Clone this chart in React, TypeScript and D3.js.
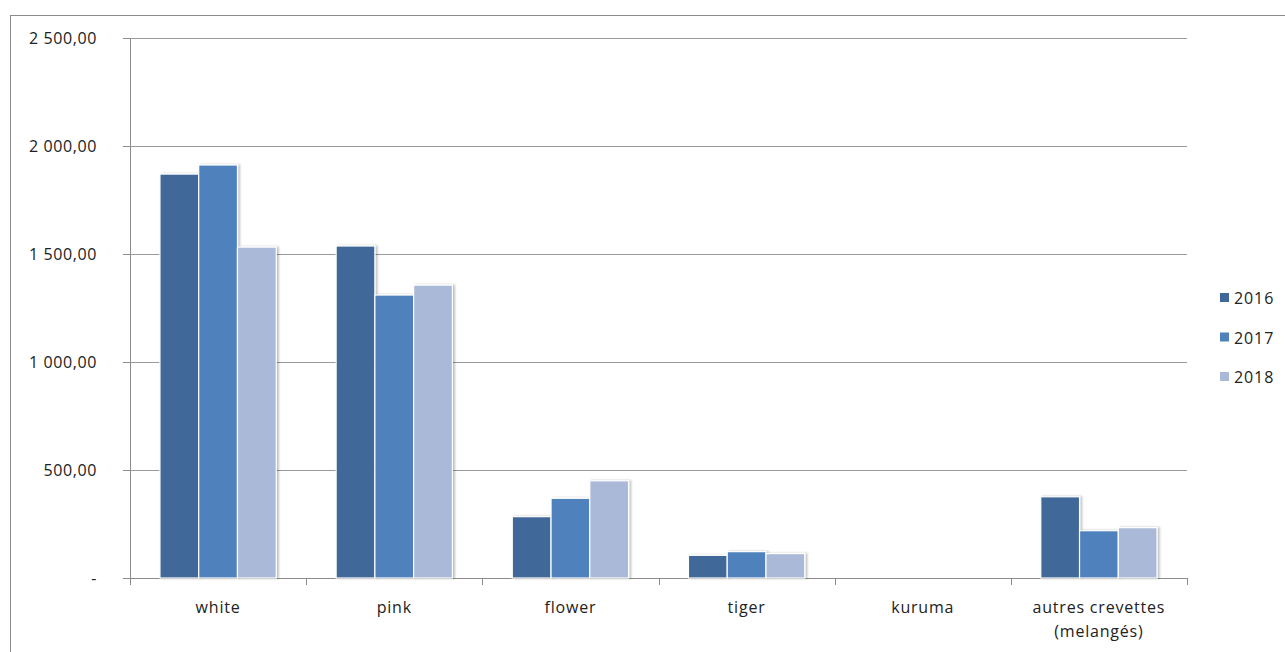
import React from "react";
import * as d3 from "d3";

const categories = ["white", "pink", "flower", "tiger", "kuruma", "autres crevettes (melangés)"];
const years = ["2016", "2017", "2018"];
const values2016 = [1870, 1537, 284, 105, 0, 376];
const values2017 = [1912, 1310, 369, 122, 0, 219];
const values2018 = [1532, 1356, 450, 113, 0, 233];
const yTicks = [0, 500, 1000, 1500, 2000, 2500];
const colors = ["#3F6899", "#4F81BD", "#AAB9D7"];

const W = 1285, H = 652;
const left = 130, right = 1187, top = 38, bottom = 578;

function fmt(v: number): string {
  if (v === 0) return "-";
  const s = v.toFixed(2).replace(".", ",");
  const [i, d] = s.split(",");
  const ig = i.replace(/\B(?=(\d{3})+(?!\d))/g, " ");
  return ig + "," + d;
}

export default function App() {
  const series = [values2016, values2017, values2018];
  const x0 = d3.scaleBand<string>().domain(categories).range([left, right]).paddingInner(0).paddingOuter(0);
  const y = d3.scaleLinear().domain([0, 2500]).range([bottom, top]);
  const bw = x0.bandwidth();
  const groupW = bw * 0.66;
  const x1 = d3.scaleBand<string>().domain(years).range([0, groupW]).padding(0);
  const font = "'Open Sans', 'Noto Sans', sans-serif";
  return (
    <svg width={W} height={H} style={{ position: "absolute", left: 0, top: 0, background: "#fff" }}>
      <defs>
        <filter id="sh" x="-20%" y="-20%" width="150%" height="150%">
          <feGaussianBlur in="SourceAlpha" stdDeviation="1.2" />
          <feOffset dx="1.5" dy="0" result="ob" />
          <feComponentTransfer><feFuncA type="linear" slope="0.25" /></feComponentTransfer>
          <feMerge><feMergeNode /><feMergeNode in="SourceGraphic" /></feMerge>
        </filter>
      </defs>
      <rect x={10.5} y={15.5} width={1290} height={660} fill="none" stroke="#8c8c8c" strokeWidth={1} />
      {yTicks.map((t) => (
        <g key={t}>
          {t > 0 && <line x1={left} x2={right} y1={Math.round(y(t)) + 0.5} y2={Math.round(y(t)) + 0.5} stroke="#9a9a9a" strokeWidth={1} />}
          <line x1={left - 7} x2={left} y1={Math.round(y(t)) + 0.5} y2={Math.round(y(t)) + 0.5} stroke="#8c8c8c" />
          <text x={97} y={y(t) + 6} textAnchor="end" fontFamily={font} fontSize={16} letterSpacing={0.6} fill="#222">{fmt(t)}</text>
        </g>
      ))}
      <line x1={left + 0.5} x2={left + 0.5} y1={top} y2={bottom + 7} stroke="#8c8c8c" />
      <line x1={left} x2={right} y1={bottom + 0.5} y2={bottom + 0.5} stroke="#8c8c8c" />
      {categories.map((c, i) => (
        <line key={"t" + i} x1={Math.round(x0(c)! + bw) + 0.5} x2={Math.round(x0(c)! + bw) + 0.5} y1={bottom} y2={bottom + 7} stroke="#8c8c8c" />
      ))}
      {categories.map((c, ci) => (
        <g key={c} transform={`translate(${x0(c)! + (bw - groupW) / 2},0)`}>
          {years.map((yr, si) => {
            const v = series[si][ci];
            if (v <= 0) return null;
            return (
              <rect key={yr} x={x1(yr)!} y={y(v)} width={x1.bandwidth()} height={bottom - y(v)}
                fill={colors[si]} stroke="#fff" strokeWidth={1.2} filter="url(#sh)" />
            );
          })}
        </g>
      ))}
      {categories.map((c) => {
        const cx = x0(c)! + bw / 2;
        const lines = c === "autres crevettes (melangés)" ? ["autres crevettes", "(melangés)"] : [c];
        return lines.map((l, li) => (
          <text key={c + li} x={cx} y={613 + li * 24} textAnchor="middle" fontFamily={font} fontSize={16} letterSpacing={0.8} fill="#222">{l}</text>
        ));
      })}
      {years.map((yr, i) => (
        <g key={yr} transform={`translate(1220,${298 + i * 39.5})`}>
          <rect x={0} y={-5} width={9} height={9} fill={colors[i]} />
          <text x={14} y={6} fontFamily={font} fontSize={16} letterSpacing={0.9} fill="#222">{yr}</text>
        </g>
      ))}
    </svg>
  );
}
